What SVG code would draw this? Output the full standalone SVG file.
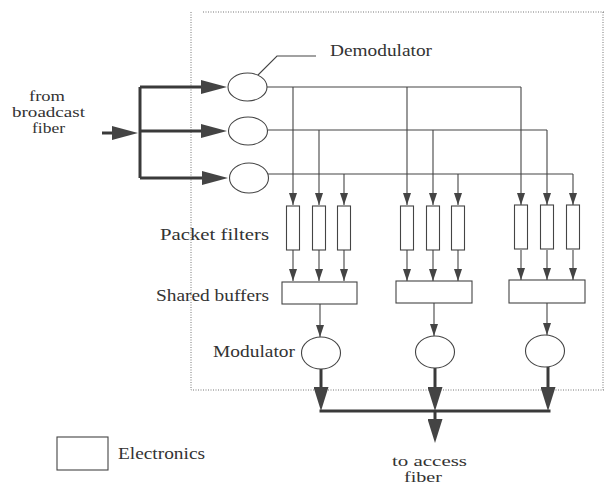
<svg xmlns="http://www.w3.org/2000/svg" width="604" height="485" viewBox="0 0 604 485">
<defs>
<style>
.t{font-family:"Liberation Serif","Times New Roman",serif;font-size:16px;fill:#333}
.s{font-size:14px}
.thin{stroke:#444;stroke-width:1.1;fill:none}
.thick{stroke:#3a3a3a;stroke-width:3;fill:none}
.box{fill:#fff;stroke:#444;stroke-width:1.1}
.dot{stroke:#777;stroke-width:1;stroke-dasharray:1,1.5;fill:none}
</style>
<marker id="sa" markerUnits="userSpaceOnUse" markerWidth="12" markerHeight="8" refX="12" refY="4" orient="auto">
<path d="M0,0 L12,4 L0,8 z" fill="#444"/>
</marker>
<marker id="ba" markerUnits="userSpaceOnUse" markerWidth="26" markerHeight="14" refX="0" refY="7" orient="auto">
<path d="M0,0 L26,7 L0,14 z" fill="#444"/>
</marker>
<marker id="bv" markerUnits="userSpaceOnUse" markerWidth="24" markerHeight="15" refX="0" refY="7.5" orient="auto">
<path d="M0,0 L24,7.5 L0,15 z" fill="#444"/>
</marker>
</defs>
<rect width="604" height="485" fill="#fff"/>

<g id="frame">
<path class="dot" d="M191,12 V390 H604"/>
<path class="dot" d="M203,12 H604"/>
<path class="dot" d="M603,12 V390"/>
</g>

<g id="connectors">
<path class="thick" d="M102,133 H112" marker-end="url(#ba)"/>
<path class="thick" d="M140,87 V178"/>
<path class="thick" d="M140,87 H201" marker-end="url(#ba)"/>
<path class="thick" d="M140,131 H201" marker-end="url(#ba)"/>
<path class="thick" d="M140,178 H202" marker-end="url(#ba)"/>
<path class="thin" d="M256,77 L277,56 H316"/>
<path class="thin" d="M267,87 H521"/>
<path class="thin" d="M268,130 H547"/>
<path class="thin" d="M268,174 H573"/>
<path class="thin" d="M293,87 V205" marker-end="url(#sa)"/>
<path class="thin" d="M407,87 V205" marker-end="url(#sa)"/>
<path class="thin" d="M521,87 V205" marker-end="url(#sa)"/>
<path class="thin" d="M319,130 V205" marker-end="url(#sa)"/>
<path class="thin" d="M433,130 V205" marker-end="url(#sa)"/>
<path class="thin" d="M547,130 V205" marker-end="url(#sa)"/>
<path class="thin" d="M344,174 V205" marker-end="url(#sa)"/>
<path class="thin" d="M458,174 V205" marker-end="url(#sa)"/>
<path class="thin" d="M573,174 V205" marker-end="url(#sa)"/>
<path class="thin" d="M293,250 V281" marker-end="url(#sa)"/>
<path class="thin" d="M319,250 V281" marker-end="url(#sa)"/>
<path class="thin" d="M344,250 V281" marker-end="url(#sa)"/>
<path class="thin" d="M407,250 V281" marker-end="url(#sa)"/>
<path class="thin" d="M433,250 V281" marker-end="url(#sa)"/>
<path class="thin" d="M458,250 V281" marker-end="url(#sa)"/>
<path class="thin" d="M521,250 V280" marker-end="url(#sa)"/>
<path class="thin" d="M547,250 V280" marker-end="url(#sa)"/>
<path class="thin" d="M573,250 V280" marker-end="url(#sa)"/>
<path class="thin" d="M320,304 V337" marker-end="url(#sa)"/>
<path class="thin" d="M434,303 V336" marker-end="url(#sa)"/>
<path class="thin" d="M547,303 V335" marker-end="url(#sa)"/>
<path class="thick" d="M321,369 V387" marker-end="url(#bv)"/>
<path class="thick" d="M435,368 V387" marker-end="url(#bv)"/>
<path class="thick" d="M548,367 V387" marker-end="url(#bv)"/>
<path class="thick" d="M319.5,411 H550.5"/>
<path class="thick" d="M435,411 V419" marker-end="url(#bv)"/>
</g>

<g id="demodulators">
<ellipse class="box" cx="247.5" cy="87" rx="19.5" ry="14"/>
<ellipse class="box" cx="248" cy="131" rx="19.5" ry="14"/>
<ellipse class="box" cx="249" cy="178" rx="19.5" ry="15"/>
</g>

<g id="filters">
<rect class="box" x="286.5" y="206" width="13" height="44"/>
<rect class="box" x="312.5" y="206" width="13" height="44"/>
<rect class="box" x="337.5" y="206" width="13" height="44"/>
<rect class="box" x="400.5" y="206" width="13" height="44"/>
<rect class="box" x="426.5" y="206" width="13" height="44"/>
<rect class="box" x="451.5" y="206" width="13" height="44"/>
<rect class="box" x="514.5" y="205" width="13" height="44"/>
<rect class="box" x="540.5" y="205" width="13" height="44"/>
<rect class="box" x="566.5" y="205" width="13" height="44"/>
</g>

<g id="buffers">
<rect class="box" x="282" y="282" width="75" height="22"/>
<rect class="box" x="396" y="281" width="76" height="22"/>
<rect class="box" x="509" y="280" width="76" height="23"/>
</g>

<g id="modulators">
<ellipse class="box" cx="321" cy="353" rx="19.5" ry="16"/>
<ellipse class="box" cx="435" cy="352" rx="19.5" ry="16"/>
<ellipse class="box" cx="545" cy="351" rx="19.5" ry="16"/>
</g>

<g id="legend">
<rect class="box" x="57" y="437" width="51" height="33" stroke="#666"/>
<text class="t" x="118" y="459" textLength="87" lengthAdjust="spacingAndGlyphs">Electronics</text>
</g>

<g id="labels">
<text class="t s" x="29" y="101" textLength="36" lengthAdjust="spacingAndGlyphs">from</text>
<text class="t s" x="12" y="117" textLength="73" lengthAdjust="spacingAndGlyphs">broadcast</text>
<text class="t s" x="32" y="133" textLength="33" lengthAdjust="spacingAndGlyphs">fiber</text>
<text class="t" x="330" y="56" textLength="102" lengthAdjust="spacingAndGlyphs">Demodulator</text>
<text class="t" x="160" y="240" textLength="109" lengthAdjust="spacingAndGlyphs">Packet filters</text>
<text class="t" x="156" y="301" textLength="113" lengthAdjust="spacingAndGlyphs">Shared buffers</text>
<text class="t" x="213" y="357" textLength="82" lengthAdjust="spacingAndGlyphs">Modulator</text>
<text class="t s" x="392" y="466" textLength="75" lengthAdjust="spacingAndGlyphs">to access</text>
<text class="t s" x="404" y="482" textLength="38" lengthAdjust="spacingAndGlyphs">fiber</text>
</g>
</svg>
